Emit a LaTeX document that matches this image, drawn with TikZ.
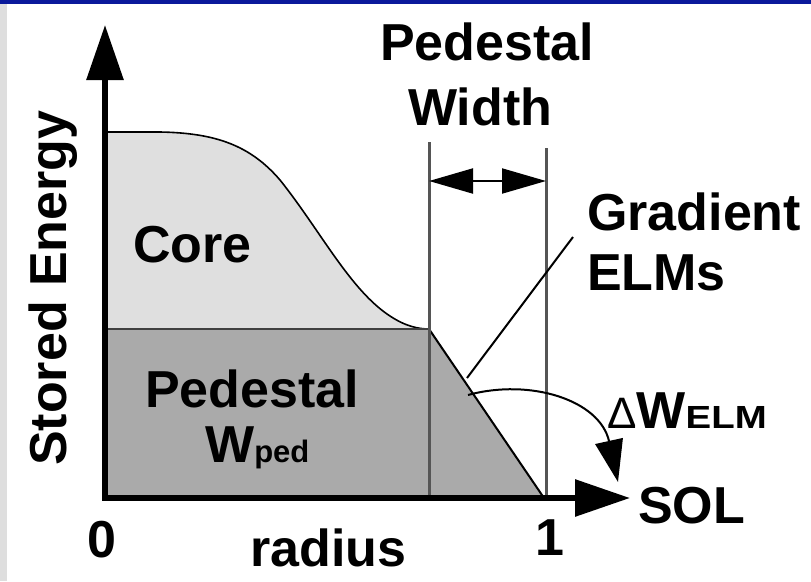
\documentclass[tikz,border=0pt]{standalone}
\usepackage{fontspec}
\setmainfont{Liberation Sans}
\usetikzlibrary{arrows.meta}
\definecolor{barblue}{RGB}{10,25,155}
\definecolor{sidegray}{RGB}{222,222,222}
\definecolor{corefill}{RGB}{223,223,223}
\definecolor{pedfill}{RGB}{170,170,170}
\definecolor{guidegray}{RGB}{85,85,85}
\begin{document}
\begin{tikzpicture}[x=1pt,y=-1pt,
  lbl/.style={font=\fontsize{52}{60}\selectfont\bfseries, inner sep=0pt, anchor=base west},
  axisline/.style={line width=6pt, -{Triangle[length=55pt,width=36pt]}},
  guide/.style={draw=guidegray, line width=3pt},
  thinline/.style={line width=2pt}]
\useasboundingbox (0,0) rectangle (811,581);
\fill[white] (0,0) rectangle (811,581);
\fill[sidegray] (0,0) rectangle (7,581);
\fill[barblue] (0,0) rectangle (811,4);

% key points
\coordinate (O) at (105,498);
\coordinate (ytip) at (105,25);
\coordinate (xtip) at (630,498);
\coordinate (ctop) at (105,132);
\coordinate (pleft) at (105,329);
\coordinate (knee) at (429,329);
\coordinate (pend) at (544,498);
\coordinate (wl) at (429,142);
\coordinate (wlb) at (429,498);
\coordinate (wr) at (546,148);
\coordinate (wrb) at (546,498);
\coordinate (wa) at (429,181);
\coordinate (wb) at (546,181);
\coordinate (gs) at (467,378);
\coordinate (ge) at (573,237);
\coordinate (ds) at (468,395);
\coordinate (de) at (618,482);

% core region
\fill[corefill] (pleft) -- (ctop) -- (160,132)
  .. controls (215,133) and (250,145) .. (280,180)
  .. controls (320,230) and (350,290) .. (390,316)
  .. controls (405,326) and (418,329) .. (knee) -- cycle;
\draw[line width=1.6pt] (ctop) -- (160,132)
  .. controls (215,133) and (250,145) .. (280,180)
  .. controls (320,230) and (350,290) .. (390,316)
  .. controls (405,326) and (418,329) .. (knee);

% pedestal region
\fill[pedfill] (pleft) -- (knee) -- (pend) -- (O) -- cycle;
\draw[draw=black!75, line width=2pt] (pleft) -- (knee);
\draw[thinline] (knee) -- (pend);

% pedestal width guides
\draw[guide] (wl) -- (wlb);
\draw[guide] (wr) -- (wrb);
\draw[thinline, {Triangle[length=44pt,width=25pt]}-{Triangle[length=44pt,width=25pt]}] (wa) -- (wb);

% gradient ELMs pointer
\draw[thinline] (gs) -- (ge);

% Delta W arrow
\draw[thinline, -{Triangle[length=42pt,width=28pt]}] (ds) .. controls (530,378) and (600,400) .. (de);

% axes
\draw[axisline] (O) -- (ytip);
\draw[axisline] ([xshift=-3pt]O) -- (xtip);

% labels
\node[lbl] (pw1) at (380,60) {Pedestal};
\node[lbl] (pw2) at (408,125) {Width};
\node[lbl] (gr1) at (587,230) {Gradient};
\node[lbl] (gr2) at (587,290) {ELMs};
\node[lbl] (core) at (133,262) {Core};
\node[lbl] (ped) at (145,407) {Pedestal};
\node[lbl] (wped) at (205,462) {W{\fontsize{31}{36}\selectfont ped}};
\node[lbl] (dw) at (607,428) {{\mdseries\fontsize{44}{50}\selectfont Δ}W\scalebox{1.2}[1]{\fontsize{32}{36}\selectfont ELM}};
\node[lbl] (sol) at (638,523) {SOL};
\node[lbl] (zero) at (87,557) {0};
\node[lbl] (one) at (535,555) {1};
\node[lbl] (rad) at (250,566) {radius};
\node[lbl, rotate=90] (se) at (66,466) {Stored Energy};
\end{tikzpicture}
\end{document}
